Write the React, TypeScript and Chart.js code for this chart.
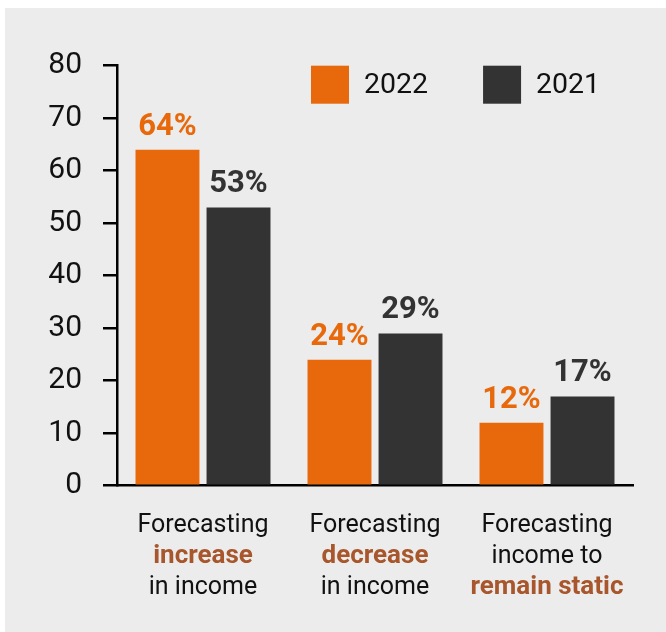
import React, { useEffect, useRef } from "react";
import { Chart, registerables } from "chart.js";

Chart.register(...registerables);

// ---- data ----
const categoryKeys = ["increase", "decrease", "static"];
const categoryLabelLines = [
  [
    { text: "Forecasting", bold: false },
    { text: "increase", bold: true },
    { text: "in income", bold: false },
  ],
  [
    { text: "Forecasting", bold: false },
    { text: "decrease", bold: true },
    { text: "in income", bold: false },
  ],
  [
    { text: "Forecasting", bold: false },
    { text: "income to", bold: false },
    { text: "remain static", bold: true },
  ],
];
const seriesNames = ["2022", "2021"];
const values2022 = [64, 24, 12];
const values2021 = [53, 29, 17];
const yMin = 0;
const yMax = 80;
const yStep = 10;

// ---- styles ----
const ORANGE = "#E8690B";
const DARK = "#333333";
const BROWN = "#A8562B";
const TEXT = "#111111";
const BG = "#ECECEC";
const FONT = "Roboto, 'Noto Sans', sans-serif";

const dataLabelPlugin = {
  id: "dataLabels",
  afterDatasetsDraw(chart: any) {
    const ctx = chart.ctx;
    ctx.save();
    ctx.font = `bold 31px ${FONT}`;
    ctx.textAlign = "center";
    ctx.textBaseline = "alphabetic";
    chart.data.datasets.forEach((ds: any, i: number) => {
      const meta = chart.getDatasetMeta(i);
      ctx.fillStyle = ds.labelColor;
      meta.data.forEach((bar: any, j: number) => {
        ctx.fillText(`${ds.data[j]}%`, bar.x, bar.y - 15);
      });
    });
    ctx.restore();
  },
};

const categoryLabelPlugin = {
  id: "categoryLabels",
  afterDraw(chart: any) {
    const ctx = chart.ctx;
    const xScale = chart.scales.x;
    const bottom = chart.chartArea.bottom;
    ctx.save();
    ctx.textAlign = "center";
    ctx.textBaseline = "alphabetic";
    categoryLabelLines.forEach((lines, i) => {
      const x = xScale.getPixelForValue(i);
      lines.forEach((line, k) => {
        ctx.font = line.bold ? `bold 26px ${FONT}` : `25px ${FONT}`;
        ctx.fillStyle = line.bold ? BROWN : TEXT;
        ctx.fillText(line.text, x, bottom + 46 + k * 31.3);
      });
    });
    ctx.restore();
  },
};

const legendPlugin = {
  id: "customLegend",
  afterDraw(chart: any) {
    const ctx = chart.ctx;
    const area = chart.chartArea;
    const box = 38;
    let x = area.left + 194;
    const top = area.top;
    ctx.save();
    ctx.font = `28.5px ${FONT}`;
    ctx.textBaseline = "middle";
    ctx.textAlign = "left";
    chart.data.datasets.forEach((ds: any) => {
      ctx.fillStyle = ds.backgroundColor;
      ctx.fillRect(x, top, box, box);
      ctx.fillStyle = TEXT;
      const tx = x + box + 15;
      ctx.fillText(ds.label, tx, top + box / 2 + 1);
      x = tx + ctx.measureText(ds.label).width + 55;
    });
    ctx.restore();
  },
};

export default function App() {
  const canvasRef = useRef<HTMLCanvasElement | null>(null);

  useEffect(() => {
    if (!canvasRef.current) return;
    const chart = new Chart(canvasRef.current, {
      type: "bar",
      data: {
        labels: categoryKeys,
        datasets: [
          {
            label: seriesNames[0],
            data: values2022,
            backgroundColor: ORANGE,
            borderWidth: 0,
            labelColor: ORANGE,
          } as any,
          {
            label: seriesNames[1],
            data: values2021,
            backgroundColor: DARK,
            borderWidth: 0,
            labelColor: DARK,
          } as any,
        ],
      },
      options: {
        animation: false,
        responsive: false,
        maintainAspectRatio: false,
        layout: { padding: { top: 57.7, right: 33, bottom: 146.3, left: 0 } },
        datasets: {
          bar: { barPercentage: 0.9, categoryPercentage: 0.826 },
        },
        plugins: {
          legend: { display: false },
          tooltip: { enabled: false },
        },
        scales: {
          x: {
            ticks: { display: false },
            grid: { display: false, drawTicks: false },
            border: { display: true, color: "#000", width: 2.5 },
            afterFit: (s: any) => {
              s.height = 0;
            },
          },
          y: {
            min: yMin,
            max: yMax,
            ticks: {
              stepSize: yStep,
              padding: 21,
              color: TEXT,
              font: { family: FONT, size: 30 },
            },
            grid: {
              drawOnChartArea: false,
              drawTicks: true,
              tickLength: 14,
              color: "#000",
              lineWidth: 2.5,
            },
            border: { display: true, color: "#000", width: 2.5 },
            afterFit: (s: any) => {
              s.width = 112;
            },
          },
        },
      },
      plugins: [dataLabelPlugin, categoryLabelPlugin, legendPlugin],
    });
    return () => chart.destroy();
  }, []);

  return (
    <div
      style={{
        position: "absolute",
        left: 5,
        top: 8,
        width: 661,
        height: 624,
        background: BG,
      }}
    >
      <canvas ref={canvasRef} width={661} height={624} style={{ display: "block" }} />
    </div>
  );
}
